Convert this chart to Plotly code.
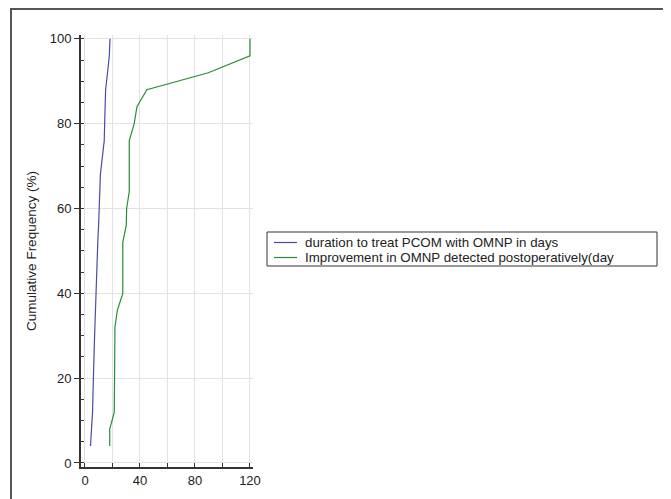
import plotly.graph_objects as go

# Cumulative frequency levels (%)
cum_freq = [4, 8, 12, 16, 20, 24, 28, 32, 36, 40, 44, 48, 52,
            56, 60, 64, 68, 72, 76, 80, 84, 88, 92, 96, 100]

# duration to treat PCOM with OMNP in days
duration_days = [4.0, 4.8, 5.5, 5.8, 6.0, 6.4, 6.8, 7.2, 7.6, 7.9, 8.1, 8.7, 9.3,
                 9.9, 10.4, 10.8, 11.2, 12.6, 14.0, 14.3, 14.6, 15.0, 16.4, 17.7, 18.2]

# Improvement in OMNP detected postoperatively (days)
improvement_days = [18, 18, 21.3, 21.3, 21.3, 21.3, 21.3, 21.8, 23.5, 27.5, 27.5, 27.5, 27.5,
                    30, 30.3, 32.2, 32.2, 32.2, 32.2, 35.8, 37.8, 45, 89.7, 120, 120]

series_names = ["duration to treat PCOM with OMNP in days",
                "Improvement in OMNP detected postoperatively(day"]
series_colors = ["#4b4bab", "#2a8c3a"]

x_ticks = [0, 40, 80, 120]
y_ticks = [0, 20, 40, 60, 80, 100]

# The page body has an 8px margin; work in window pixels and shift.
OFF = 8
WIN_W, WIN_H = 671, 499
W, H = WIN_W - OFF, WIN_H - OFF
L, R, T, B = 81 - OFF, 253 - OFF, 35 - OFF, 467 - OFF
pw, ph = R - L, B - T


def fx(p):
    return (p - OFF - L) / pw


def fy(p):
    return (B - (p - OFF)) / ph


fig = go.Figure()
fig.add_trace(go.Scatter(x=duration_days, y=cum_freq, mode="lines",
                         name=series_names[0], showlegend=False,
                         line=dict(color=series_colors[0], width=1.2)))
fig.add_trace(go.Scatter(x=improvement_days, y=cum_freq, mode="lines",
                         name=series_names[1], showlegend=False,
                         line=dict(color=series_colors[1], width=1.2)))

fig.update_layout(
    width=W, height=H,
    margin=dict(l=L, r=W - R, t=T, b=H - B, pad=0, autoexpand=False),
    paper_bgcolor="white", plot_bgcolor="white",
    font=dict(family="Liberation Sans, Arial, sans-serif", size=13, color="#222"),
    showlegend=False,
    xaxis=dict(range=[-2.9, 122.2], tickvals=x_ticks, ticks="inside", ticklen=4,
               tickwidth=1, tickcolor="#333",
               showline=True, linecolor="#333", linewidth=2,
               showgrid=True, gridcolor="#e3e3e3", gridwidth=1,
               zeroline=False,
               minor=dict(dtick=20, tick0=0, ticks="inside", ticklen=4,
                          tickcolor="#333", showgrid=True, gridcolor="#e3e3e3"),
               fixedrange=True),
    yaxis=dict(range=[-0.95, 100.9], tickvals=y_ticks, ticks="outside", ticklen=5,
               tickwidth=1, tickcolor="#333",
               showline=True, linecolor="#333", linewidth=2,
               showgrid=True, gridcolor="#e3e3e3", gridwidth=1,
               zeroline=False,
               title=dict(text="Cumulative Frequency (%)", standoff=10,
                          font=dict(size=13.5)),
               minor=dict(dtick=5, tick0=0, ticks="inside", ticklen=3,
                          tickcolor="#333", showgrid=False),
               fixedrange=True),
)

# Outer frame around the chart
fig.add_shape(type="rect", xref="paper", yref="paper",
              x0=fx(11), x1=fx(668), y0=fy(530), y1=fy(9),
              line=dict(color="#555", width=2), fillcolor="rgba(0,0,0,0)",
              layer="below")

# Legend box (drawn by hand so the row spacing matches)
fig.add_shape(type="rect", xref="paper", yref="paper",
              x0=fx(267), x1=fx(657), y0=fy(266), y1=fy(232),
              line=dict(color="#333", width=1), fillcolor="white",
              layer="above")
legend_rows = [242.5, 257.5]
for name, color, row in zip(series_names, series_colors, legend_rows):
    fig.add_shape(type="line", xref="paper", yref="paper",
                  x0=fx(274), x1=fx(297), y0=fy(row), y1=fy(row),
                  line=dict(color=color, width=1.2), layer="above")
    fig.add_annotation(xref="paper", yref="paper", x=fx(304), y=fy(row),
                       text=name, showarrow=False, xanchor="left",
                       yanchor="middle", borderpad=0,
                       font=dict(size=13.3, color="#222"))

fig.write_html("out.html")
